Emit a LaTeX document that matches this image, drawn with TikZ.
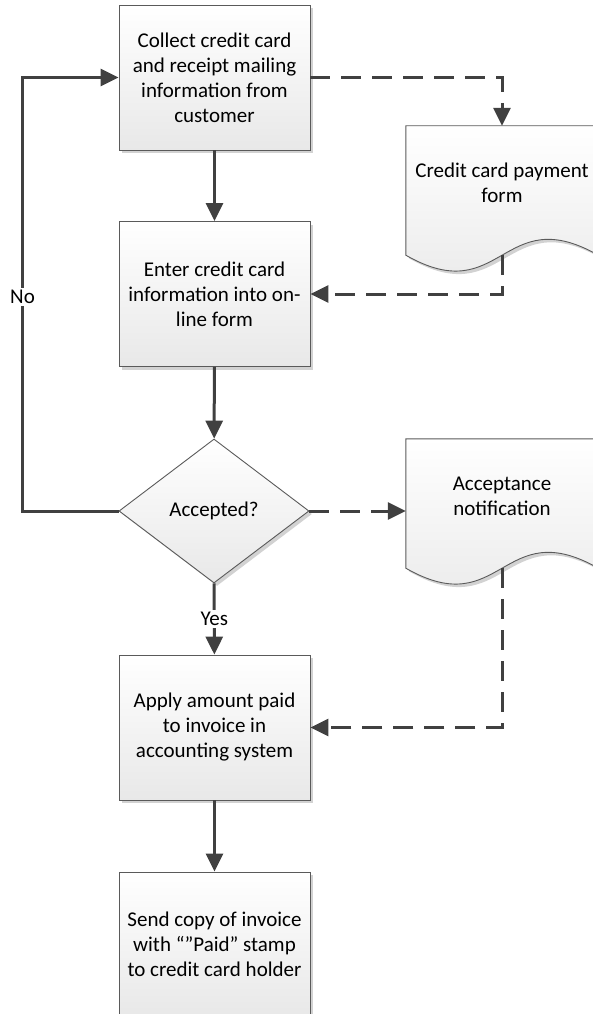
\documentclass[tikz,border=0pt]{standalone}
\usepackage{fontspec}
\setmainfont{Carlito}
\usetikzlibrary{arrows.meta,shapes.geometric,shadows,calc}
\pgfdeclarelayer{background}
\pgfsetlayers{background,main}

\definecolor{linkgray}{HTML}{404040}
\definecolor{rimgray}{HTML}{5A5A5A}
\definecolor{shadowgray}{HTML}{D2D2D2}

% outline of a document symbol whose wavy base sits 15pt below the node
\newcommand\docoutline[1]{(#1.north west) -- (#1.north east) -- ([yshift=-15pt]#1.south east)
  .. controls ([yshift=40pt]#1.south) and ([yshift=-70pt]#1.south) .. ([yshift=-15pt]#1.south west) -- cycle}

\begin{document}
\begin{tikzpicture}[x=1pt,y=-1pt,
  font=\fontsize{21}{25}\selectfont,
  shapefill/.style={top color=white, bottom color=black!9, draw=rimgray, line width=0.9pt,
    drop shadow={shadow xshift=3pt, shadow yshift=-3pt, fill=shadowgray, opacity=1}},
  stepbox/.style={shapefill, rectangle, minimum width=191pt, minimum height=145pt,
    inner sep=0pt, align=center},
  decision/.style={shapefill, diamond, minimum width=190pt, minimum height=144pt,
    inner sep=0pt, align=center},
  docnode/.style={rectangle, minimum width=192pt, minimum height=114pt, inner sep=0pt, align=center},
  flow/.style={draw=linkgray, line width=3pt, -{Triangle[length=18pt,width=17pt]}},
  dflow/.style={flow, dash pattern=on 20pt off 11pt},
  edgelabel/.style={fill=white, inner sep=2pt}]

\useasboundingbox (0,0) rectangle (592,1014);

% process steps
\node[stepbox] (collect) at (214.5,77.5) {Collect credit card\\and receipt mailing\\information from\\customer};
\node[stepbox] (enter) at (214.5,294) {Enter credit card\\information into on-\\line form};
\node[decision] (accepted) at (214,511) {Accepted?};
\node[stepbox] (apply) at (214.5,727.5) {Apply amount paid\\to invoice in\\accounting system};
\node[stepbox] (send) at (214.5,944.5) {Send copy of invoice\\with “”Paid” stamp\\to credit card holder};

% documents
\node[docnode] (form) at (502,183) {Credit card payment\\form};
\node[docnode] (notice) at (502,496) {Acceptance\\notification};
\begin{pgfonlayer}{background}
  \path[shapefill] \docoutline{form};
  \path[shapefill] \docoutline{notice};
\end{pgfonlayer}

% main flow
\draw[flow] (collect) -- (enter);
\draw[flow] (enter) -- (accepted);
\draw[flow] (accepted) -- node[edgelabel] {Yes} (apply);
\draw[flow] (apply) -- (send);

% rejection loop
\coordinate (nobend) at (22.5,511);
\draw[flow] (accepted.west) -- (nobend) |- node[edgelabel, pos=0.247] {No} (collect.west);

% document flows
\draw[dflow] (collect.east) -| (form.north);
\draw[dflow] ([yshift=-15pt]form.south) |- (enter.east);
\draw[dflow] (accepted.east) -- (accepted.east -| notice.west);
\draw[dflow] ([yshift=-15pt]notice.south) |- (apply.east);
\end{tikzpicture}
\end{document}
